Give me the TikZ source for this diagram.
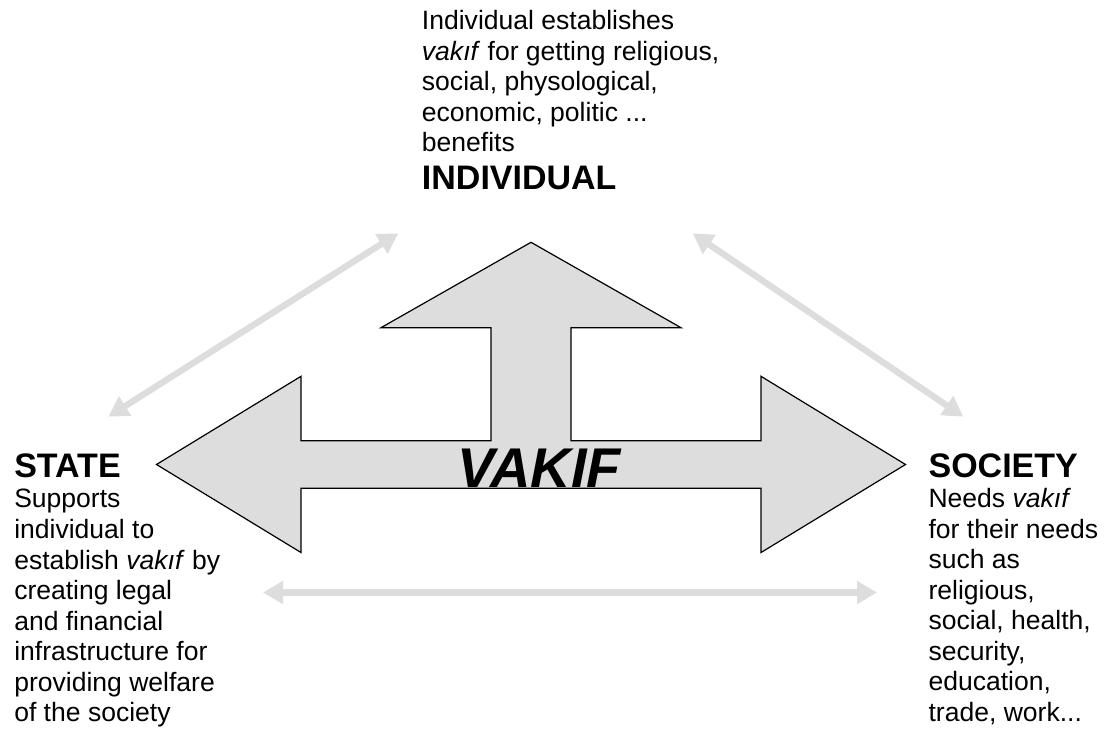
\documentclass[tikz,border=0pt]{standalone}
\usepackage{fontspec}
\setmainfont{Liberation Sans}
\usetikzlibrary{arrows.meta}
\definecolor{linkgray}{HTML}{DDDDDD}

\begin{document}
\begin{tikzpicture}[x=0.75pt, y=-0.75pt,
  tie/.style={draw=linkgray, line width=4.8pt, {Triangle[length=15pt,width=16.5pt]}-{Triangle[length=15pt,width=16.5pt]}},
  head/.style={anchor=base west, inner sep=0pt, font=\fontsize{25.5}{29}\selectfont\bfseries},
  body/.style={anchor=base west, inner sep=0pt, align=left, font=\fontsize{19.9}{22.9}\selectfont}]
% Fix the page to the size of the picture
\useasboundingbox (0,0) rectangle (1108,731);

% The big three-way arrow
\draw[fill=linkgray, line width=0.9pt] (531,242.3) -- (681,327.7) -- (571,327.7) -- (571,440.7)
  -- (761,440.7) -- (761,376.3) -- (905.5,464.5) -- (761,552.5) -- (761,488.3)
  -- (301,488.3) -- (301,552.5) -- (156.5,464.5) -- (301,376.3) -- (301,440.7)
  -- (491,440.7) -- (491,327.7) -- (381,327.7) -- cycle;
\node[anchor=base, inner sep=0pt, font=\fontsize{42}{46}\selectfont\bfseries\itshape] (vakif) at (539,487) {VAKIF};

% Individual (body nodes sit on the baseline of their last line)
\node[body] (indiv-text) at (421.7,151.7) {Individual establishes\\\textit{vakıf} for getting religious,\\social, physological,\\economic, politic ...\\benefits};
\node[head] (indiv-head) at (421.7,190) {INDIVIDUAL};

% State
\node[head] (state-head) at (14,477.3) {STATE};
\node[body] (state-text) at (14,721.7) {Supports\\individual to\\establish \textit{vakıf} by\\creating legal\\and financial\\infrastructure for\\providing welfare\\of the society};

% Society
\node[head] (soc-head) at (928.3,477.3) {SOCIETY};
\node[body] (soc-text) at (928.3,721.5) {Needs \textit{vakıf}\\for their needs\\such as\\religious,\\social, health,\\security,\\education,\\trade, work...};

% Ends of the gray links
\coordinate (state-up) at (108.3,416.7);
\coordinate (indiv-left) at (398.3,233.3);
\coordinate (indiv-right) at (692.7,233.3);
\coordinate (soc-up) at (963.3,416.7);
\coordinate (state-right) at (263,592.5);
\coordinate (soc-left) at (877,592.5);

\draw[tie] (state-up) -- (indiv-left);
\draw[tie] (indiv-right) -- (soc-up);
\draw[tie] (state-right) -- (soc-left);
\end{tikzpicture}
\end{document}
